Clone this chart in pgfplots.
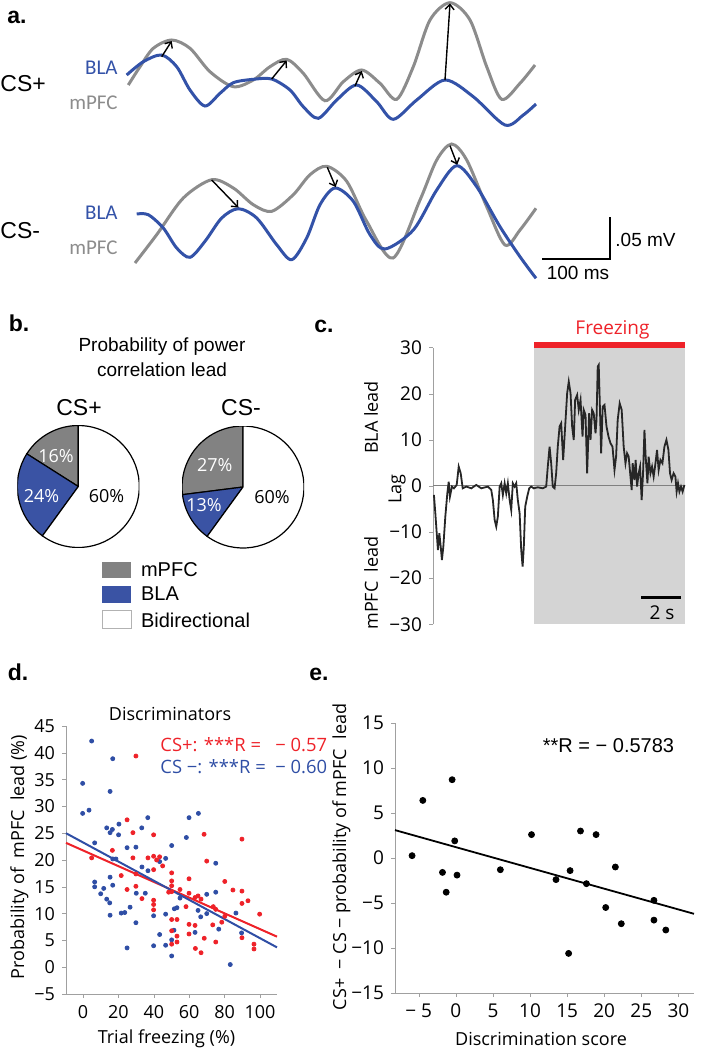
\documentclass[border=0pt]{standalone}
\usepackage{fontspec}
\setmainfont{Liberation Sans}
\newfontfamily\os{Open Sans}
\newfontfamily\carl{Carlito}
\usepackage{pgfplots}
\pgfplotsset{compat=1.18}
\usetikzlibrary{arrows.meta}
\definecolor{cblue}{HTML}{3352A8}
\definecolor{cgray}{HTML}{8C8C8C}
\definecolor{pgray}{HTML}{828282}
\definecolor{pblue}{HTML}{3A53A4}
\definecolor{dred}{HTML}{EE2229}
\definecolor{dblue}{HTML}{2F4EA5}
\definecolor{shade}{HTML}{D4D4D4}
\definecolor{axgray}{HTML}{A0A0A0}
\newcommand\fs[1]{\fontsize{#1}{#1}\selectfont}

\pgfplotstableread{
t y
-0.02 -1.95
0.05 -5.93
0.12 -10.27
0.18 -13.88
0.25 -10.27
0.32 -13.16
0.38 -16.05
0.45 -13.16
0.55 -6.65
0.65 -1.59
0.72 0.94
0.78 -2.31
0.88 -0.14
0.98 -0.51
1.12 0.22
1.22 4.19
1.32 2.75
1.42 -0.51
1.60 -0.14
1.85 -0.51
2.10 0.22
2.35 -0.51
2.68 -0.14
2.85 -0.87
2.93 -3.04
3.02 -7.38
3.10 -8.82
3.18 -6.65
3.27 -0.14
3.35 0.58
3.43 -1.95
3.52 0.58
3.60 -1.59
3.68 0.58
3.77 -3.04
3.85 -5.21
3.93 0.58
4.02 -0.14
4.10 0.58
4.18 -3.04
4.27 -5.93
4.35 -13.88
4.42 -17.50
4.48 -13.16
4.55 -4.48
4.65 -2.31
4.75 -0.51
4.85 -0.14
4.98 -0.51
5.18 -0.29
5.43 -0.51
5.60 -0.14
5.68 4.19
5.77 8.53
5.85 4.92
5.93 -0.14
6.02 -0.51
6.10 2.75
6.18 8.53
6.27 12.87
6.35 13.59
6.45 5.64
6.55 12.87
6.65 20.10
6.73 22.63
6.82 20.10
6.90 12.87
6.98 9.98
7.05 18.66
7.15 19.74
7.23 16.49
7.32 18.66
7.42 10.70
7.48 16.49
7.57 15.40
7.65 2.75
7.75 15.76
7.82 9.98
7.90 16.49
7.98 15.76
8.07 11.42
8.12 14.32
8.18 25.89
8.23 26.25
8.28 18.66
8.35 7.09
8.43 17.21
8.52 17.57
8.62 12.87
8.72 10.70
8.82 9.26
8.92 8.53
9.02 3.47
9.10 6.36
9.18 14.32
9.28 17.93
9.38 16.49
9.48 8.53
9.57 4.92
9.65 7.09
9.73 6.36
9.82 2.02
9.88 -0.87
9.93 4.92
10.02 1.30
10.08 5.64
10.15 -0.14
10.23 2.75
10.30 4.19
10.38 -3.04
10.45 2.75
10.52 12.15
10.58 6.36
10.67 0.58
10.73 6.36
10.82 2.75
10.90 4.19
10.98 2.02
11.05 4.19
11.15 7.81
11.23 3.47
11.32 5.64
11.42 4.92
11.52 8.53
11.62 9.98
11.72 7.81
11.80 2.75
11.88 1.30
11.98 2.75
12.07 2.02
12.13 -1.23
12.20 0.58
12.27 -1.23
12.35 -0.14
12.43 -1.23
12.52 0.22
}\lagtrace

\pgfplotstableread{
x y
4.9 42.2
16.8 38.9
-0.2 34.3
15.3 32.8
-0.2 28.7
3.4 29.3
13.4 26.0
16.6 25.7
20.3 26.7
15.3 25.1
20.1 24.7
33.2 26.0
36.6 27.9
59.9 27.9
65.2 28.7
6.6 23.2
29.9 22.4
24.9 22.3
58.4 24.2
50.1 22.7
16.8 20.2
18.6 20.2
46.7 20.3
43.3 19.7
33.3 18.7
36.7 18.0
75.0 19.4
6.6 15.9
6.6 15.0
11.7 14.7
10.0 13.7
15.3 16.8
16.8 15.3
13.4 12.7
15.1 12.0
30.1 13.8
35.2 13.8
26.6 11.2
23.6 10.2
21.6 10.1
15.3 9.7
29.9 8.3
39.9 9.6
39.9 4.0
24.9 3.6
46.7 9.9
43.3 6.1
46.7 4.1
51.6 10.9
53.1 11.1
54.8 12.9
50.1 5.1
50.1 2.1
51.4 6.9
65.0 10.6
63.3 6.5
66.5 9.4
69.9 10.0
69.9 13.6
75.0 14.0
76.7 7.1
86.4 10.1
89.6 6.4
83.2 0.5
}\dblue

\pgfplotstableread{
x y
29.9 39.4
24.9 27.5
28.2 25.1
39.9 24.7
68.4 24.8
89.8 23.9
4.9 20.4
16.6 21.8
21.6 17.1
28.2 20.4
36.7 20.4
39.9 20.7
41.6 20.0
43.3 20.6
45.0 18.9
39.9 18.2
29.9 17.4
24.9 14.5
29.9 15.1
33.3 12.8
39.9 12.5
39.9 11.7
39.9 10.7
50.1 17.6
50.1 16.1
50.1 15.2
50.1 14.1
48.4 14.0
54.8 14.5
59.9 16.5
59.9 13.8
63.3 13.0
65.0 13.3
66.7 12.7
58.2 11.3
50.1 8.9
53.1 8.9
59.9 8.0
63.3 7.8
59.9 6.2
53.1 5.8
50.1 6.8
50.1 4.3
53.1 4.7
63.5 3.5
66.7 2.7
68.5 5.4
69.9 19.8
73.6 11.3
73.3 7.9
75.0 4.7
75.0 10.8
78.4 8.4
80.1 9.5
80.1 16.0
84.7 14.4
89.8 14.2
89.8 11.9
93.2 12.4
89.8 5.5
96.6 4.3
96.6 3.4
99.8 9.9
}\dred

\pgfplotstableread{
x y
-5.9 0.26
-4.45 6.4
-1.8 -1.6
-1.3 -3.8
-0.5 8.7
-0.15 1.9
0.16 -1.9
6.0 -1.3
10.2 2.6
13.5 -2.4
15.4 -1.4
15.2 -10.6
16.8 3.0
17.6 -2.85
18.9 2.6
20.2 -5.5
21.5 -1.0
22.3 -7.3
26.7 -4.7
26.7 -6.9
28.3 -8.0
}\escore

\begin{document}
\begin{tikzpicture}
\useasboundingbox (0,0) rectangle (351pt,-525pt);

% ---------- panel a ----------
\begin{axis}[at={(62.5pt,-140pt)}, anchor=south west, scale only axis,
  width=207.5pt, height=140pt, xmin=125, xmax=540, ymin=0, ymax=280,
  y dir=reverse, hide axis, clip=false]
\addplot[cgray, line width=1.5pt, smooth] coordinates {(128.3,85) (140,66.7) (153.3,48.3) (171.7,40) (190,48.3) (210,71.7) (233.3,86.7) (253.3,80) (270,66.7) (286.7,59.3) (303.3,73.3) (325,100.7) (343.3,81.7) (361.7,70) (380,83.3) (396.7,99.3) (413.3,66.7) (430,20) (450,2.7) (470,20) (486.7,66.7) (501.7,99.3) (520,83.3) (535,65)};
\addplot[cblue, line width=1.5pt, smooth] coordinates {(126.7,75) (143.3,61.7) (161.7,55) (176.7,66.7) (190,90) (205,106) (220,93.3) (233.3,82.7) (253.3,79.3) (271.7,79) (290,90) (303.3,106.7) (318.3,118.3) (336.7,100) (356.7,85) (376.7,101.7) (393.3,119.3) (416.7,100) (445,80) (473.3,96.7) (505,125) (523.3,115) (536,104)};
\addplot[cgray, line width=1.5pt, smooth] coordinates {(135,263) (156.7,234.7) (183.3,198) (211.7,179.7) (233.3,188) (253.3,204.7) (271.7,211.3) (293.3,194.7) (310,174.7) (326.7,166.3) (346.7,181.3) (366.7,221.3) (393,258) (420,200) (436.7,160) (451.7,144) (466.7,160) (486.7,206.7) (505,245) (520,230) (536,208.3)};
\addplot[cblue, line width=1.5pt, smooth] coordinates {(136.7,214) (148.3,214.7) (163.3,228) (176.7,248) (190,257.3) (205,241.3) (221.7,218) (238.3,208.7) (256.7,218) (276.7,244.7) (291.7,259.7) (306.7,238) (320,204.7) (335,188) (353.3,201.3) (370,234.7) (385,249) (413.3,230) (436.7,190) (456.7,165.7) (476.7,186.7) (500,226.7) (520,256.7) (536,278.3)};
\pgfplotsset{arr/.style={black, line width=0.7pt, -{Straight Barb[length=2.5pt,width=4.5pt]}}}
\addplot[arr] coordinates {(161.7,56.7) (171.7,41)};
\addplot[arr] coordinates {(271.7,79) (286.7,60.5)};
\addplot[arr] coordinates {(355,86) (361.7,71)};
\addplot[arr] coordinates {(445,80) (450,3.5)};
\addplot[arr] coordinates {(211.7,180) (238.3,207.5)};
\addplot[arr] coordinates {(327.3,167.3) (335.7,187)};
\addplot[arr] coordinates {(450,145.7) (457.3,164.7)};
\addplot[black, line width=1pt] coordinates {(542.3,259.3) (610,259.3) (610,216.7)};
\end{axis}

% ---------- panel b pies ----------
\begin{axis}[at={(39.15pt,-243.25pt)}, anchor=center, scale only axis,
  width=61pt, height=61pt, xmin=-1, xmax=1, ymin=-1, ymax=1, hide axis]
\draw[fill=pgray, line width=0.6pt] (axis cs:0,0) -- ++(90:30.5pt) arc[start angle=90, delta angle=16*3.6, radius=30.5pt] -- cycle;
\draw[fill=pblue, line width=0.6pt] (axis cs:0,0) -- ++({90+16*3.6}:30.5pt) arc[start angle={90+16*3.6}, delta angle=24*3.6, radius=30.5pt] -- cycle;
\draw[fill=white, line width=0.6pt] (axis cs:0,0) -- ++({90+40*3.6}:30.5pt) arc[start angle={90+40*3.6}, delta angle=60*3.6, radius=30.5pt] -- cycle;
\end{axis}
\begin{axis}[at={(121.5pt,-243.5pt)}, anchor=center, scale only axis,
  width=61pt, height=61pt, xmin=-1, xmax=1, ymin=-1, ymax=1, hide axis]
\draw[fill=pgray, line width=0.6pt] (axis cs:0,0) -- ++(90:30.5pt) arc[start angle=90, delta angle=27*3.6, radius=30.5pt] -- cycle;
\draw[fill=pblue, line width=0.6pt] (axis cs:0,0) -- ++({90+27*3.6}:30.5pt) arc[start angle={90+27*3.6}, delta angle=13*3.6, radius=30.5pt] -- cycle;
\draw[fill=white, line width=0.6pt] (axis cs:0,0) -- ++({90+40*3.6}:30.5pt) arc[start angle={90+40*3.6}, delta angle=60*3.6, radius=30.5pt] -- cycle;
\end{axis}

% ---------- panel c ----------
\begin{axis}[at={(216.5pt,-312.15pt)}, anchor=south west, scale only axis,
  width=126pt, height=138.35pt, xmin=-0.067, xmax=12.55, ymin=-30, ymax=30,
  axis x line=none, axis y line*=left, axis line style={axgray},
  ytick={-30,-20,...,30}, yticklabels={−30,−20,−10,0,10,20,30},
  xtick=\empty, tick style={axgray}, tick align=outside, major tick length=2pt,
  yticklabel style={font=\os\fs{9.5}}, clip=false]
\addplot[fill=shade, draw=none] coordinates {(4.98,-30) (12.55,-30) (12.55,30) (4.98,30)};
\addplot[fill=dred, draw=none] coordinates {(4.98,30) (12.55,30) (12.55,31.15) (4.98,31.15)};
\addplot[gray, line width=0.5pt] coordinates {(-0.067,0) (12.55,0)};
\addplot[black!85, line width=0.9pt] table[x=t, y=y] {\lagtrace};
\addplot[black, line width=1.5pt] coordinates {(10.35,-24.2) (12.35,-24.2)};
\end{axis}

% ---------- panel d ----------
\begin{axis}[at={(33pt,-497pt)}, anchor=south west, scale only axis,
  width=105.5pt, height=134pt, xmin=-9.6, xmax=109.6, ymin=-5, ymax=45,
  axis lines*=left, axis line style={axgray}, tick style={axgray},
  tick align=outside, major tick length=2pt,
  xtick={0,20,...,100}, xticklabels={0,20,40,60,80,100},
  ytick={-5,0,...,45}, yticklabels={−5,0,5,10,15,20,25,30,35,40,45},
  tick label style={font=\os\fs{9}}, clip=false]
\addplot[only marks, mark=*, mark size=1pt, dblue] table {\dblue};
\addplot[only marks, mark=*, mark size=1pt, dred] table {\dred};
\addplot[dred, line width=1pt] coordinates {(-9.6,23.2) (109.6,5.7)};
\addplot[dblue, line width=1pt] coordinates {(-9.6,25.0) (109.6,3.7)};
\end{axis}

% ---------- panel e ----------
\begin{axis}[at={(197.5pt,-496.5pt)}, anchor=south west, scale only axis,
  width=149.5pt, height=135pt, xmin=-8.2, xmax=32.1, ymin=-15, ymax=15,
  axis lines*=left, axis line style={axgray}, tick style={axgray},
  tick align=outside, major tick length=2pt,
  xtick={-5,0,...,30}, xticklabels={− 5,0,5,10,15,20,25,30},
  ytick={-15,-10,...,15}, yticklabels={−15,−10,−5,0,5,10,15},
  tick label style={font=\os\fs{9.5}}, clip=false]
\addplot[only marks, mark=*, mark size=1.5pt, black] table {\escore};
\addplot[black, line width=0.9pt] coordinates {(-8.2,3.1) (32.1,-6.2)};
\end{axis}

% ---------- texts ----------
\begin{scope}[x=0.5pt, y=-0.5pt]
\node[font=\bfseries\fs{11.5}] at (17,17) {a.};
\node[font=\bfseries\fs{11.5}] at (19,323) {b.};
\node[font=\bfseries\fs{11.5}] at (324,326) {c.};
\node[font=\bfseries\fs{11.5}] at (18,672) {d.};
\node[font=\bfseries\fs{11.5}] at (319,674) {e.};
% a
\node[font=\fs{11.5}, anchor=west, inner sep=0] at (0,84) {CS+};
\node[font=\fs{11.5}, anchor=west, inner sep=0] at (0,231) {CS-};
\node[font=\carl\fs{10.5}, text=cblue, anchor=east, inner sep=0] at (118,68) {BLA};
\node[font=\carl\fs{10.5}, text=cgray, anchor=east, inner sep=0] at (118,103) {mPFC};
\node[font=\carl\fs{10.5}, text=cblue, anchor=east, inner sep=0] at (118,213) {BLA};
\node[font=\carl\fs{10.5}, text=cgray, anchor=east, inner sep=0] at (118,248) {mPFC};
\node[font=\fs{9.5}, anchor=west, inner sep=0] at (615,240) {.05 mV};
\node[font=\fs{9.5}] at (578,273) {100 ms};
% b
\node[font=\fontsize{9.5}{12.5}\selectfont, align=center] at (162,357.5) {Probability of power\\correlation lead};
\node[font=\fs{11.5}] at (79,408) {CS+};
\node[font=\fs{11.5}] at (241,408) {CS-};
\node[font=\os\fs{9}, text=white] at (56,456) {16\%};
\node[font=\os\fs{9}, text=white] at (41.5,496) {24\%};
\node[font=\os\fs{9}] at (106.6,496) {60\%};
\node[font=\os\fs{9}, text=white] at (214.7,465) {27\%};
\node[font=\os\fs{9}, text=white] at (204,505) {13\%};
\node[font=\os\fs{9}] at (272,497) {60\%};
\fill[pgray] (102,562) rectangle (131,578);
\fill[pblue] (102,586) rectangle (131,603);
\draw[gray!60, line width=0.4pt] (102,610) rectangle (131,628);
\node[font=\fs{10}, anchor=west] at (134,570) {mPFC};
\node[font=\fs{10}, anchor=west] at (134,594) {BLA};
\node[font=\fs{10}, anchor=west] at (134,620) {Bidirectional};
% c
\node[font=\os\fs{9.5}, text=dred] at (612.5,330) {Freezing};
\node[font=\os\fs{9}, rotate=90] at (371,417.5) {BLA lead};
\node[font=\os\fs{9}, rotate=90] at (397,489) {Lag};
\node[font=\os\fs{9}, rotate=90] at (371,583) {mPFC\ \ lead};
\node[font=\os\fs{9.5}] at (662,613) {2 s};
% d
\node[font=\os\fs{9}] at (170,714) {Discriminators};
\node[font=\os\fs{9.2}, text=dred, anchor=west, inner sep=0] at (160,744.5) {CS+: ***R =\ \ \ − 0.57};
\node[font=\os\fs{9.2}, text=dblue, anchor=west, inner sep=0] at (160,766.5) {CS −: ***R =\ \ − 0.60};
\node[font=\os\fs{9}] at (166.5,1039) {Trial freezing (\%)};
\node[font=\os\fs{9}, rotate=90] at (19.5,857) {Probability of\ \ mPFC\ \ lead (\%)};
% e
\node[font=\fs{10}] at (608.5,745.5) {**R = − 0.5783};
\node[font=\os\fs{9}] at (541,1039) {Discrimination score};
\node[font=\os\fs{9}, rotate=90] at (341.5,857) {CS+\ \ − CS − probability of mPFC\ \ lead};
\end{scope}
\end{tikzpicture}
\end{document}
